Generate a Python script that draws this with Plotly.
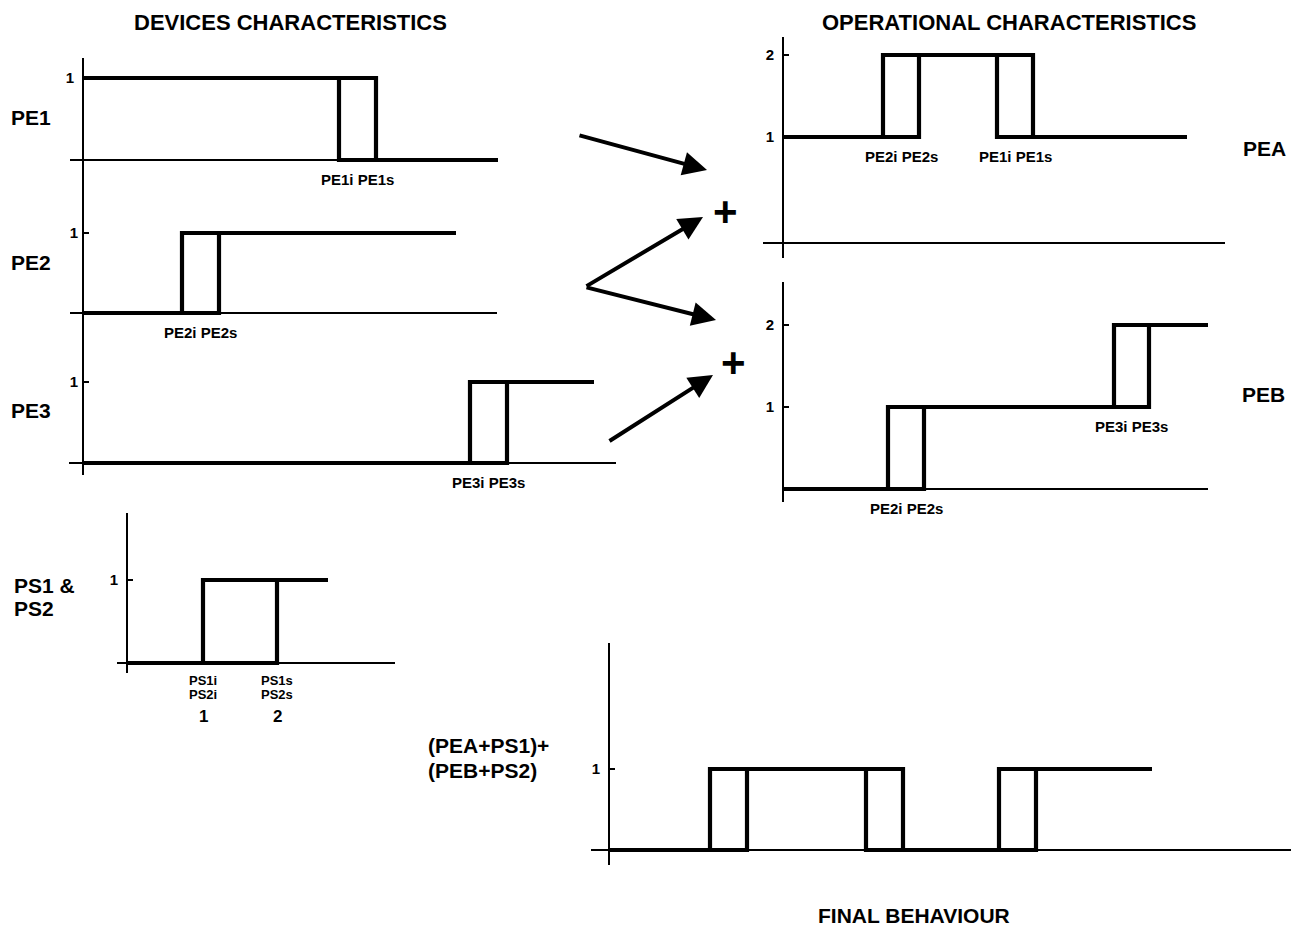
import plotly.graph_objects as go

W, H = 1291, 929

# ---------------- data ----------------
# x: time in arbitrary units, y: state level
pe1_levels = [1, 0]
pe1_i = [25.6]
pe1_s = [29.3]
pe1_end = 41.5
pe1_marks = ["PE1i PE1s"]

pe2_levels = [0, 1]
pe2_i = [9.9]
pe2_s = [13.6]
pe2_end = 37.3
pe2_marks = ["PE2i PE2s"]

pe3_levels = [0, 1]
pe3_i = [38.7]
pe3_s = [42.4]
pe3_end = 51.1
pe3_marks = ["PE3i PE3s"]

pea_levels = [1, 2, 1]
pea_i = [10.0, 21.4]
pea_s = [13.6, 25.0]
pea_end = 40.4
pea_marks = ["PE2i PE2s", "PE1i PE1s"]

peb_levels = [0, 1, 2]
peb_i = [10.5, 33.1]
peb_s = [14.1, 36.6]
peb_end = 45.4
peb_marks = ["PE2i PE2s", "PE3i PE3s"]

ps_levels = [0, 1]
ps_i = [7.6]
ps_s = [15.0]
ps_end = 20.1
ps_marks_i = ["PS1i", "PS2i", "1"]
ps_marks_s = ["PS1s", "PS2s", "2"]

fin_levels = [0, 1, 0, 1]
fin_i = [10.1, 25.7, 39.0]
fin_s = [13.8, 29.4, 42.7]
fin_end = 54.3

ticks_one = [1]
ticks_two = [1, 2]

# ---------------- layout geometry (pixels) ----------------
FONT = "Liberation Sans, Arial, Helvetica, sans-serif"
PX_PER_X = 10.0


def px(x):
    return x / W


def py(y):
    return 1 - y / H


PANELS = [
    dict(levels=pe1_levels, i=pe1_i, s=pe1_s, end=pe1_end, marks=pe1_marks, ticks=ticks_one,
         ax=83, xl=70, xr=498, base=160, y0=160, u=82, top=58, bot=475, yline=True),
    dict(levels=pe2_levels, i=pe2_i, s=pe2_s, end=pe2_end, marks=pe2_marks, ticks=ticks_one,
         ax=83, xl=70, xr=497, base=313, y0=313, u=80, top=200, bot=340, yline=False),
    dict(levels=pe3_levels, i=pe3_i, s=pe3_s, end=pe3_end, marks=pe3_marks, ticks=ticks_one,
         ax=83, xl=69, xr=616, base=463, y0=463, u=81, top=350, bot=475, yline=False),
    dict(levels=pea_levels, i=pea_i, s=pea_s, end=pea_end, marks=pea_marks, ticks=ticks_two,
         ax=783, xl=763, xr=1225, base=243, y0=219, u=82, top=37, bot=258, yline=True),
    dict(levels=peb_levels, i=peb_i, s=peb_s, end=peb_end, marks=peb_marks, ticks=ticks_two,
         ax=783, xl=782, xr=1208, base=489, y0=489, u=82, top=282, bot=502, yline=True),
    dict(levels=ps_levels, i=ps_i, s=ps_s, end=ps_end, marks=None, ticks=ticks_one,
         ax=127, xl=117, xr=395, base=663, y0=663, u=83, top=513, bot=673, yline=True),
    dict(levels=fin_levels, i=fin_i, s=fin_s, end=fin_end, marks=None, ticks=ticks_one,
         ax=609, xl=591, xr=1291, base=850, y0=850, u=81, top=643, bot=865, yline=True),
]


def loop_path(levels, i, s, end, start=0.0):
    xs, ys = [], []
    left = [start] + list(i)
    right = list(s) + [end]
    for k, lv in enumerate(levels):
        xs += [left[k], right[k], None]
        ys += [lv, lv, None]
    for k in range(len(i)):
        lo, hi = levels[k], levels[k + 1]
        xs += [i[k], s[k], s[k], i[k], i[k], s[k], None]
        ys += [lo, lo, hi, hi, lo, lo, None]
    return xs, ys


fig = go.Figure()
layout = {}
annotations = []

for n, p in enumerate(PANELS, start=1):
    xid = "x" if n == 1 else f"x{n}"
    yid = "y" if n == 1 else f"y{n}"
    xs, ys = loop_path(p["levels"], p["i"], p["s"], p["end"])
    fig.add_trace(go.Scatter(x=xs, y=ys, mode="lines", xaxis=xid, yaxis=yid,
                             line=dict(color="black", width=4.2), hoverinfo="skip",
                             showlegend=False, connectgaps=False))
    xkey = "xaxis" if n == 1 else f"xaxis{n}"
    ykey = "yaxis" if n == 1 else f"yaxis{n}"
    layout[xkey] = dict(
        domain=[px(p["xl"]), min(1.0, px(p["xr"]))],
        range=[(p["xl"] - p["ax"]) / PX_PER_X, (p["xr"] - p["ax"]) / PX_PER_X],
        anchor="free", position=py(p["base"]),
        showline=True, linecolor="black", linewidth=2,
        showgrid=False, zeroline=False, showticklabels=False, ticks="",
        fixedrange=True,
    )
    layout[ykey] = dict(
        domain=[py(p["bot"]), py(p["top"])],
        range=[(p["y0"] - p["bot"]) / p["u"], (p["y0"] - p["top"]) / p["u"]],
        anchor="free", position=px(p["ax"]),
        showline=p["yline"], linecolor="black", linewidth=2,
        showgrid=False, zeroline=False,
        tickmode="array", tickvals=p["ticks"],
        ticktext=[f"<b>{t}</b>" for t in p["ticks"]],
        ticks="inside", ticklen=5, tickwidth=2, tickcolor="black",
        ticklabelstandoff=5,
        tickfont=dict(family=FONT, size=15, color="black"),
        fixedrange=True,
    )
    if p["marks"]:
        for k, m in enumerate(p["marks"]):
            annotations.append(dict(
                x=(p["i"][k] + p["s"][k]) / 2, y=min(p["levels"][k], p["levels"][k + 1]),
                xref=xid, yref=yid, yshift=-19, showarrow=False,
                text=f"<b>{m}</b>", xanchor="center", yanchor="middle",
                font=dict(family=FONT, size=15, color="black")))

# PS labels (stacked under the two thresholds)
for xv, lines in ((ps_i[0], ps_marks_i), (ps_s[0], ps_marks_s)):
    for shift, txt, sz in zip((-17, -31, -53), lines, (13, 13, 17)):
        annotations.append(dict(x=xv, y=0, xref="x6", yref="y6", yshift=shift,
                                showarrow=False, text=f"<b>{txt}</b>",
                                xanchor="center", yanchor="middle",
                                font=dict(family=FONT, size=sz, color="black")))


def label(text, x, y, size=21, xanchor="left"):
    annotations.append(dict(x=px(x), y=py(y), xref="paper", yref="paper",
                            text=f"<b>{text}</b>", showarrow=False,
                            xanchor=xanchor, yanchor="middle",
                            font=dict(family=FONT, size=size, color="black")))


label("DEVICES CHARACTERISTICS", 290, 22, 22, "center")
label("OPERATIONAL CHARACTERISTICS", 1009, 22, 22, "center")
label("FINAL BEHAVIOUR", 914, 915, 21, "center")
label("PE1", 9, 117)
label("PE2", 9, 262)
label("PE3", 9, 410)
label("PEA", 1241, 148)
label("PEB", 1240, 395)
label("PS1 &", 12, 585)
label("PS2", 12, 608)
label("(PEA+PS1)+", 426, 745)
label("(PEB+PS2)", 426, 770)
label("+", 725, 211, 42, "center")
label("+", 734, 363, 42, "center")

# arrows: (tail, head) in pixels
arrows = [((578, 135), (707, 170)),
          ((585, 287), (703, 217)),
          ((585, 287), (716, 320)),
          ((608, 442), (713, 375))]
for (tx, ty), (hx, hy) in arrows:
    annotations.append(dict(x=px(hx), y=py(hy), xref="paper", yref="paper",
                            ax=tx - hx, ay=ty - hy, axref="pixel", ayref="pixel",
                            text="", showarrow=True, arrowhead=2, arrowsize=1.2,
                            arrowwidth=4, arrowcolor="black", standoff=0))

fig.update_layout(
    width=W, height=H, autosize=False,
    margin=dict(l=0, r=0, t=0, b=0, pad=0),
    paper_bgcolor="white", plot_bgcolor="rgba(0,0,0,0)",
    showlegend=False, hovermode=False,
    annotations=annotations,
    **layout,
)

fig.write_html(
    "out.html",
    config={"displayModeBar": False, "staticPlot": True},
    post_script="document.body.style.margin='0';document.body.style.overflow='hidden';",
)
